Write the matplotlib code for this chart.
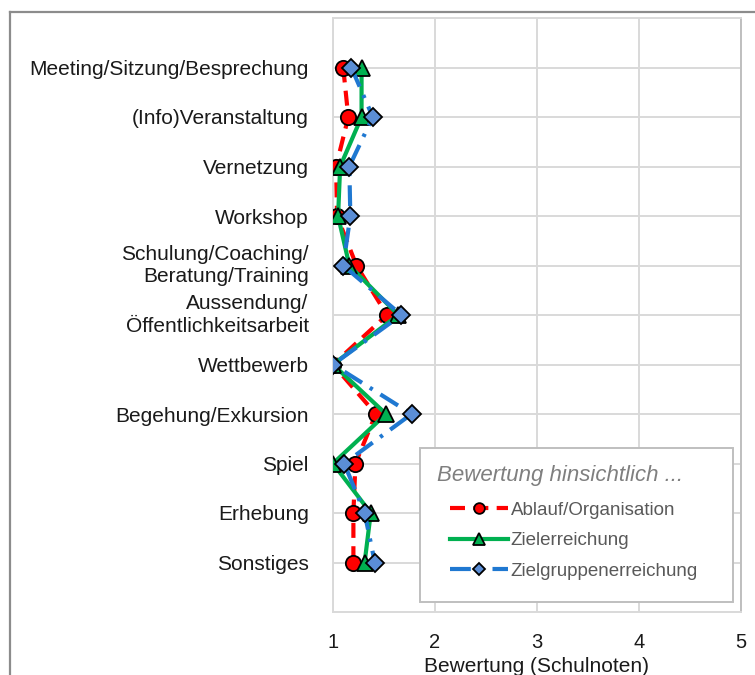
import numpy as np
import matplotlib.pyplot as plt
from matplotlib.lines import Line2D
from matplotlib.offsetbox import HPacker, VPacker, DrawingArea

plt.rcParams['font.family'] = ['Liberation Sans', 'DejaVu Sans']

# Aktivitaetsformen (von oben nach unten)
kategorien = [
    "Meeting/Sitzung/Besprechung",
    "(Info)Veranstaltung",
    "Vernetzung",
    "Workshop",
    "Schulung/Coaching/\nBeratung/Training",
    "Aussendung/\nÖffentlichkeitsarbeit",
    "Wettbewerb",
    "Begehung/Exkursion",
    "Spiel",
    "Erhebung",
    "Sonstiges",
]

# mittlere Bewertung (Schulnoten) je Aspekt
ablauf = [1.10, 1.15, 1.03, 1.04, 1.23, 1.53, 1.00, 1.42, 1.22, 1.20, 1.20]
ziel = [1.28, 1.28, 1.07, 1.05, 1.16, 1.64, 1.00, 1.52, 1.00, 1.37, 1.31]
zielgruppe = [1.18, 1.39, 1.16, 1.17, 1.10, 1.67, 1.00, 1.77, 1.11, 1.31, 1.41]

x_ticks = [1, 2, 3, 4, 5]

pos = np.arange(1, len(kategorien) + 1)

fig = plt.figure(figsize=(7.55, 6.75), dpi=100)
ax = fig.add_axes([333 / 755, 1 - 612 / 675, 408 / 755, 594 / 675])

ax.plot(ablauf, pos, color='#ff0000', lw=3, linestyle=(0, (3.6, 2.0)),
        marker='o', ms=11, mfc='#ff0000', mec='black', mew=1.3,
        label='Ablauf/Organisation', zorder=3)
ax.plot(ziel, pos, color='#00b050', lw=3, linestyle='-',
        marker='^', ms=12, mfc='#00b050', mec='black', mew=1.3,
        label='Zielerreichung', zorder=4)
ax.plot(zielgruppe, pos, color='#1f78d1', lw=3, linestyle=(0, (5.0, 2.2, 0.8, 2.2)),
        marker='D', ms=9, mfc='#5b8ed6', mec='black', mew=1.3,
        label='Zielgruppenerreichung', zorder=5)

ax.set_xlim(1, 5)
ax.set_ylim(12, 0)
ax.set_xticks(x_ticks)
ax.set_yticks(pos)
ax.set_yticklabels(kategorien, fontsize=15, color='#1a1a1a', ha='right',
                   linespacing=1.25)
# zweizeilige Beschriftungen mittig zur Gitterlinie
for lbl in ax.get_yticklabels():
    if '\n' in lbl.get_text():
        lbl.set_va('center')
ax.tick_params(axis='x', labelsize=14.5, colors='#1a1a1a', length=0, pad=15)
ax.tick_params(axis='y', length=0, pad=17.5)
ax.set_xlabel('Bewertung (Schulnoten)', fontsize=15, color='#1a1a1a', labelpad=4)

ax.grid(True, color='#d9d9d9', lw=1.4, zorder=0)
ax.set_axisbelow(True)
for side in ['top', 'left', 'bottom']:
    ax.spines[side].set_color('#d9d9d9')
    ax.spines[side].set_linewidth(1.4)
ax.spines['right'].set_color('#bfbfbf')
ax.spines['right'].set_linewidth(1.4)

leg = ax.legend(loc='lower right', bbox_to_anchor=(0.980, 0.017),
                title='Bewertung hinsichtlich ...', fontsize=13.5,
                handlelength=3.1, handletextpad=0.15, borderpad=0.9,
                labelspacing=0.72, fancybox=False, framealpha=1,
                markerscale=0.7, edgecolor='#bfbfbf', borderaxespad=0)
leg.get_frame().set_linewidth(1.4)
leg.get_title().set_fontsize(16)
leg.get_title().set_fontstyle('italic')
leg.get_title().set_color('#7f7f7f')
for t in leg.get_texts():
    t.set_color('#595959')

# Eintraege unter dem Titel einruecken, rechts und unten etwas Luft
eintraege = HPacker(pad=0, sep=0, align='baseline',
                    children=[DrawingArea(9.4, 0), leg._legend_handle_box,
                              DrawingArea(13, 0)])
eintraege = VPacker(pad=0, sep=0, align='left',
                    children=[eintraege, DrawingArea(1, 3.6)])
leg._legend_box._children[1] = eintraege
leg._legend_box.align = 'left'
leg._legend_box.sep += 1.5

# Rahmen um die gesamte Grafik
fig.add_artist(Line2D([10 / 755, 10 / 755], [1 - 12 / 675, -0.05],
                      color='#8c8c8c', lw=1.6))
fig.add_artist(Line2D([10 / 755, 1.05], [1 - 12 / 675, 1 - 12 / 675],
                      color='#8c8c8c', lw=1.6))

fig.savefig('out.png', dpi=100)
